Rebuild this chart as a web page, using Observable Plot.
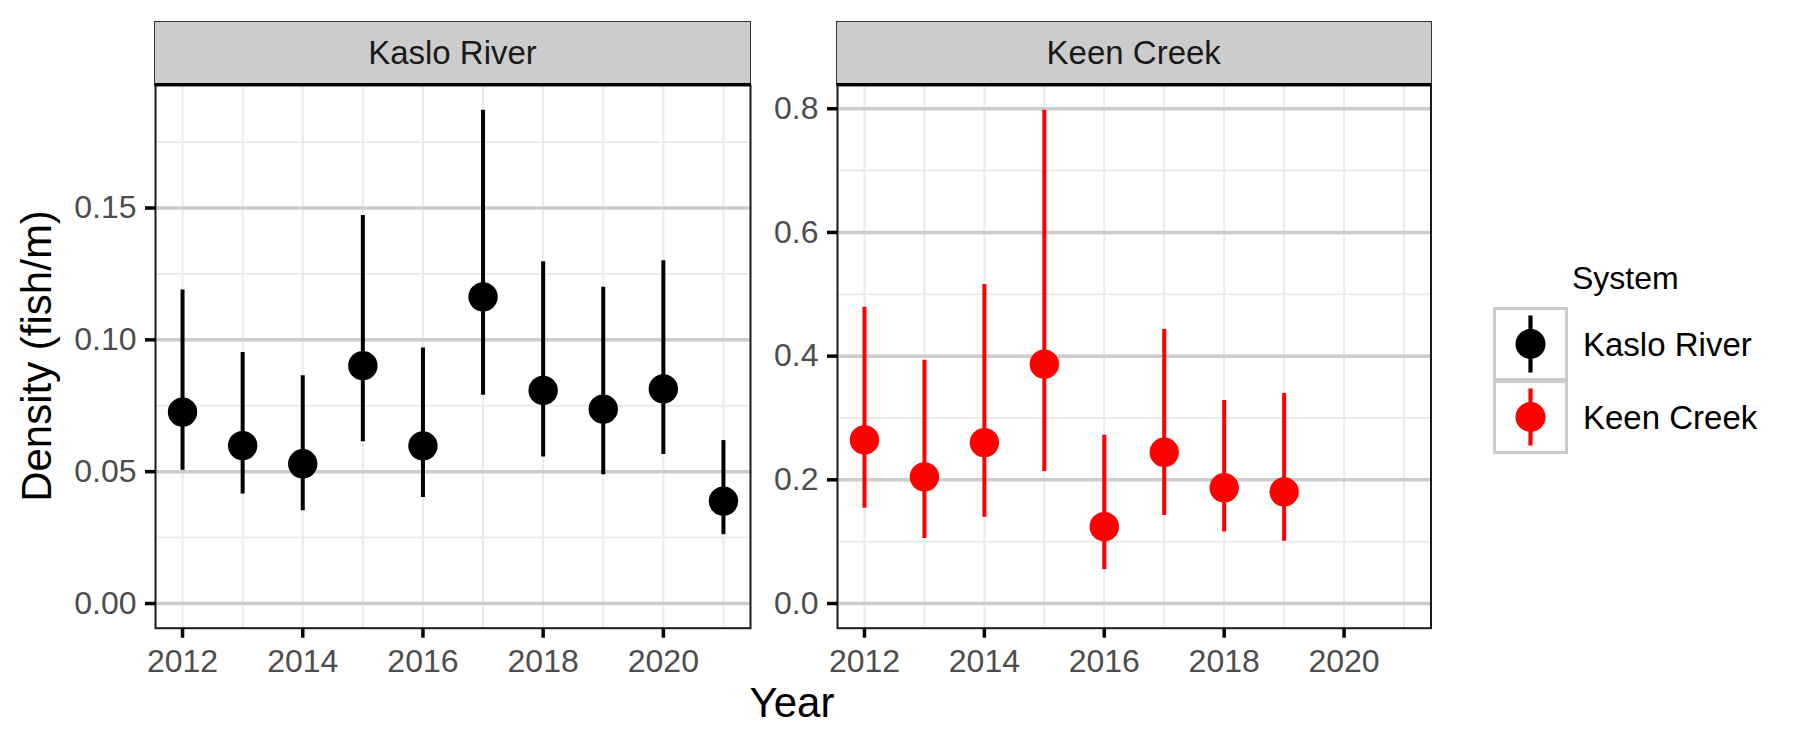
<!DOCTYPE html>
<html>
<head>
<meta charset="utf-8">
<script src="https://cdn.jsdelivr.net/npm/d3@7"></script>
<script src="https://cdn.jsdelivr.net/npm/@observablehq/plot@0.6"></script>
<style>
  body { margin: 0; background: #fff; font-family: "Liberation Sans", Arial, sans-serif; }
  #wrap { position: relative; width: 1800px; height: 750px; overflow: hidden; background: #fff; }
  .abs { position: absolute; white-space: nowrap; }
  .strip { position: absolute; background: #cccccc; border: 1.5px solid #333; border-bottom: 3px solid #000;
           box-sizing: border-box; display: flex; align-items: center; justify-content: center;
           font-size: 33px; color: #1a1a1a; }
  svg text { font-family: "Liberation Sans", Arial, sans-serif; }
  g[aria-label="x-axis tick"], g[aria-label="y-axis tick"] { stroke: #000; }
  g[aria-label="x-axis tick label"], g[aria-label="y-axis tick label"] { font-size: 32px; fill: #4d4d4d; }
  .key { position: absolute; box-sizing: border-box; border: 3px solid #cccccc; width: 75px; height: 74px; }
</style>
</head>
<body>
<div id="wrap"></div>
<script>
// ---- data ----
const systems = ["Kaslo River", "Keen Creek"];
const systemColors = ["#000000", "#ff0000"];

const kasloYears   = [2012, 2013, 2014, 2015, 2016, 2017, 2018, 2019, 2020, 2021];
const kasloDensity = [0.0726, 0.0599, 0.0530, 0.0902, 0.0598, 0.1163, 0.0808, 0.0737, 0.0814, 0.0388];
const kasloLower   = [0.0505, 0.0415, 0.0352, 0.0614, 0.0402, 0.0790, 0.0556, 0.0488, 0.0565, 0.0261];
const kasloUpper   = [0.1189, 0.0952, 0.0864, 0.1472, 0.0969, 0.1871, 0.1296, 0.1199, 0.1300, 0.0618];

const keenYears   = [2012, 2013, 2014, 2015, 2016, 2017, 2018, 2019];
const keenDensity = [0.2645, 0.2048, 0.2602, 0.3870, 0.1242, 0.2445, 0.1871, 0.1806];
const keenLower   = [0.1542, 0.1053, 0.1397, 0.2134, 0.0548, 0.1424, 0.1155, 0.1005];
const keenUpper   = [0.4790, 0.3935, 0.5160, 0.7977, 0.2720, 0.4430, 0.3284, 0.3397];

const allYears   = [2012, 2013, 2014, 2015, 2016, 2017, 2018, 2019, 2020, 2021];
const xTicks     = [2012, 2014, 2016, 2018, 2020];
const kasloYTicks = [0, 0.05, 0.10, 0.15];
const kasloYMinor = [0.025, 0.075, 0.125, 0.175];
const keenYTicks  = [0, 0.2, 0.4, 0.6, 0.8];
const keenYMinor  = [0.1, 0.3, 0.5, 0.7];

const xTitle = "Year";
const yTitle = "Density (fish/m)";
const legendTitle = "System";

// ---- build ----
const wrap = document.getElementById("wrap");
const rows = (ys, d, lo, hi) => ys.map((y, i) => ({year: y, density: d[i], lower: lo[i], upper: hi[i]}));
const kasloData = rows(kasloYears, kasloDensity, kasloLower, kasloUpper);
const keenData = rows(keenYears, keenDensity, keenLower, keenUpper);

// ggplot-like 5% expansion
const xDomain = [d3.min(allYears) - 0.05 * (d3.max(allYears) - d3.min(allYears)),
                 d3.max(allYears) + 0.05 * (d3.max(allYears) - d3.min(allYears))];
function yDom(upper) {
  const hi = d3.max(upper), lo = 0, pad = 0.05 * (hi - lo);
  return [lo - pad, hi + pad];
}

const PANEL_TOP = 85, PANEL_BOTTOM = 627.7, SVG_TOP = 80, SVG_H = 670;

function panel({data, yDomain, yTicks, yMinor, fmt, color, width, marginLeft, marginRight}) {
  return Plot.plot({
    width, height: SVG_H,
    marginTop: PANEL_TOP - SVG_TOP,
    marginBottom: SVG_H - (PANEL_BOTTOM - SVG_TOP),
    marginLeft, marginRight,
    style: {fontFamily: "'Liberation Sans', Arial, sans-serif", fontSize: "32px", background: "transparent", overflow: "visible"},
    x: {domain: xDomain},
    y: {domain: yDomain},
    marks: [
      Plot.ruleX(allYears, {stroke: "#ebebeb", strokeWidth: 2}),
      Plot.ruleY(yMinor, {stroke: "#ebebeb", strokeWidth: 2}),
      Plot.ruleY(yTicks, {stroke: "#cccccc", strokeWidth: 3.5}),
      Plot.ruleX(data, {x: "year", y1: "lower", y2: "upper", stroke: color, strokeWidth: 4}),
      Plot.dot(data, {x: "year", y: "density", r: 14.7, fill: color, stroke: null}),
      Plot.frame({stroke: "#1a1a1a", strokeWidth: 2}),
      Plot.axisX({ticks: xTicks, tickSize: 10, tickPadding: 11, stroke: "#000", strokeWidth: 3.5,
                  fill: "#4d4d4d", tickFormat: d => String(d), label: null, fontSize: 32}),
      Plot.axisY({ticks: yTicks, tickSize: 10, tickPadding: 9, stroke: "#000", strokeWidth: 3.5,
                  fill: "#4d4d4d", tickFormat: fmt, label: null, fontSize: 32})
    ]
  });
}

const panels = [
  {left: 0, width: 760, marginLeft: 155, marginRight: 10, data: kasloData, upper: kasloUpper,
   yTicks: kasloYTicks, yMinor: kasloYMinor, fmt: d3.format(".2f"), color: systemColors[0], name: systems[0]},
  {left: 760, width: 680, marginLeft: 77, marginRight: 9.5, data: keenData, upper: keenUpper,
   yTicks: keenYTicks, yMinor: keenYMinor, fmt: d3.format(".1f"), color: systemColors[1], name: systems[1]}
];

panels.forEach(p => {
  const svg = panel({data: p.data, yDomain: yDom(p.upper), yTicks: p.yTicks, yMinor: p.yMinor,
                     fmt: p.fmt, color: p.color, width: p.width, marginLeft: p.marginLeft, marginRight: p.marginRight});
  svg.style.position = "absolute";
  svg.style.left = p.left + "px";
  svg.style.top = SVG_TOP + "px";
  wrap.appendChild(svg);
  const s = document.createElement("div");
  s.className = "strip";
  const x0 = p.left + p.marginLeft, x1 = p.left + p.width - p.marginRight;
  s.style.left = (x0 - 1) + "px";
  s.style.width = (x1 - x0 + 2) + "px";
  s.style.top = "21px";
  s.style.height = (PANEL_TOP - 21 + 1) + "px";
  s.textContent = p.name;
  wrap.appendChild(s);
});

// axis titles
const xt = document.createElement("div");
xt.className = "abs";
Object.assign(xt.style, {left: "592px", width: "400px", textAlign: "center", top: "682px", fontSize: "42px", lineHeight: "42px", color: "#000"});
xt.textContent = xTitle;
wrap.appendChild(xt);

const yt = document.createElement("div");
yt.className = "abs";
Object.assign(yt.style, {left: "37px", top: "356px", fontSize: "42px", lineHeight: "42px", color: "#000",
  transform: "translate(-50%, -50%) rotate(-90deg)"});
yt.textContent = yTitle;
wrap.appendChild(yt);

// legend
const lt = document.createElement("div");
lt.className = "abs";
Object.assign(lt.style, {left: "1572px", top: "262px", fontSize: "32px", lineHeight: "32px", color: "#000"});
lt.textContent = legendTitle;
wrap.appendChild(lt);

systems.forEach((name, i) => {
  const top = 307 + i * 73;
  const k = document.createElement("div");
  k.className = "key";
  k.style.left = "1493px";
  k.style.top = top + "px";
  wrap.appendChild(k);
  const svg = d3.create("svg").attr("width", 75).attr("height", 74)
    .style("position", "absolute").style("left", "1493px").style("top", top + "px");
  svg.append("line").attr("x1", 37.5).attr("x2", 37.5).attr("y1", 37 - 28.5).attr("y2", 37 + 28.5)
    .attr("stroke", systemColors[i]).attr("stroke-width", 4.2);
  svg.append("circle").attr("cx", 37.5).attr("cy", 37).attr("r", 15).attr("fill", systemColors[i]);
  wrap.appendChild(svg.node());
  const t = document.createElement("div");
  t.className = "abs";
  Object.assign(t.style, {left: "1583px", top: (top + 38 - 17) + "px", fontSize: "33px", lineHeight: "33px", color: "#000"});
  t.textContent = name;
  wrap.appendChild(t);
});
</script>
</body>
</html>
